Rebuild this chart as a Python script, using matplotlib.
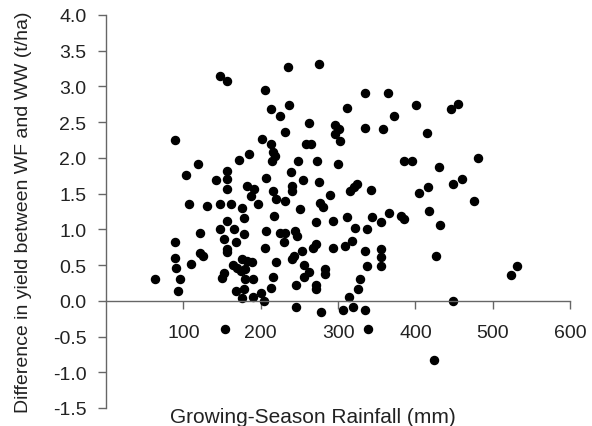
import numpy as np
from matplotlib import pyplot as plt

plt.rcParams['font.family'] = ['Liberation Sans', 'DejaVu Sans']
plt.rcParams['axes.unicode_minus'] = False

# growing-season rainfall (mm) and yield difference WF - WW (t/ha)
rainfall = [147, 156, 206, 213, 89, 202, 213, 216, 218, 215, 185, 172, 119, 103, 157, 157, 142, 207,
            235, 276, 335, 364, 225, 237, 311, 372, 263, 232, 296, 301, 296, 302, 335, 358, 259, 265,
            248, 273, 300, 239, 385, 255,
            401, 446, 455, 415, 396, 431, 481, 460,
            157, 182, 191, 188, 216, 197, 107, 131, 148, 162, 176, 179, 157, 147, 166, 179, 207, 122,
            152, 168, 89, 157, 157, 206, 122, 125, 89, 110, 90, 176, 182, 189, 164, 170, 174, 180,
            63, 96, 152, 150, 180, 190, 216, 93, 168, 179, 213, 200, 176, 190, 204, 217,
            220, 232, 241, 241, 276, 290, 277, 280, 251, 316, 320, 324, 342, 271, 294, 311, 322, 337,
            344, 356, 366, 382, 385, 225, 232, 244, 247, 230, 271, 268, 253, 294, 309, 318, 243, 241,
            220, 335, 356, 356, 356, 338, 256, 263, 256, 283, 283, 329, 326, 246, 271, 271, 314,
            405, 416, 449, 417, 432, 476, 427, 531, 523, 449,
            246, 278, 307, 319, 335, 339, 154, 424]
yield_diff = [3.14, 3.08, 2.95, 2.68, 2.25, 2.27, 2.20, 2.08, 2.03, 1.95, 2.06, 1.97, 1.91, 1.76, 1.81, 1.71, 1.69, 1.72,
              3.27, 3.32, 2.91, 2.91, 2.59, 2.74, 2.70, 2.59, 2.49, 2.36, 2.46, 2.40, 2.33, 2.23, 2.42, 2.40, 2.20, 2.20,
              1.96, 1.95, 1.92, 1.80, 1.95, 1.69,
              2.74, 2.68, 2.76, 2.35, 1.96, 1.87, 2.00, 1.71,
              1.57, 1.61, 1.56, 1.46, 1.54, 1.36, 1.36, 1.32, 1.36, 1.35, 1.30, 1.16, 1.12, 1.00, 1.00, 0.93, 0.97, 0.95,
              0.87, 0.82, 0.82, 0.73, 0.68, 0.74, 0.67, 0.62, 0.60, 0.51, 0.46, 0.59, 0.56, 0.54, 0.50, 0.46, 0.42, 0.44,
              0.31, 0.31, 0.39, 0.32, 0.31, 0.30, 0.34, 0.14, 0.14, 0.17, 0.18, 0.11, 0.04, 0.05, 0.00, 1.19,
              1.42, 1.40, 1.60, 1.53, 1.66, 1.48, 1.37, 1.31, 1.29, 1.53, 1.59, 1.63, 1.55, 1.10, 1.12, 1.17, 1.02, 1.01,
              1.17, 1.10, 1.23, 1.19, 1.15, 0.95, 0.95, 0.97, 0.91, 0.82, 0.80, 0.74, 0.69, 0.74, 0.76, 0.83, 0.62, 0.58,
              0.54, 0.69, 0.73, 0.61, 0.48, 0.49, 0.50, 0.40, 0.34, 0.44, 0.38, 0.30, 0.16, 0.22, 0.22, 0.16, 0.05,
              1.51, 1.59, 1.64, 1.26, 1.06, 1.40, 0.62, 0.48, 0.36, 0.00,
              -0.08, -0.15, -0.13, -0.08, -0.13, -0.39, -0.39, -0.83]

x_ticks = [100, 200, 300, 400, 500, 600]
y_ticks = np.arange(-1.5, 4.01, 0.5)

fig = plt.figure(figsize=(5.92, 4.27), dpi=100)
ax = fig.add_axes([0.179, 0.0422, 0.784, 0.9204])

ax.plot(rainfall, yield_diff, linestyle=' ', marker='o', ms=5.8, color='black')

ax.set_xlim((0, 600))
ax.set_ylim((-1.5, 4.0))

ax.spines['right'].set_visible(False)
ax.spines['top'].set_visible(False)
ax.spines['bottom'].set_position(('data', 0))
for s in ['left', 'bottom']:
    ax.spines[s].set_color('#666666')
    ax.spines[s].set_linewidth(1.0)

ax.xaxis.set_ticks(x_ticks)
ax.yaxis.set_ticks(y_ticks)
ax.set_yticklabels(['%.1f' % v for v in y_ticks])
ax.tick_params(axis='x', direction='out', length=6, width=1, color='#666666', pad=11,
               labelsize=14, labelcolor='#222222')
ax.tick_params(axis='y', direction='out', length=6, width=1, color='#666666', pad=8,
               labelsize=14, labelcolor='#222222')

ax.set_xlabel('Growing-Season Rainfall (mm)', fontsize=15, color='#222222')
ax.xaxis.set_label_coords(0.446, 0.003)
ax.set_ylabel('Difference in yield between WF and WW (t/ha)', fontsize=14, color='#222222')
ax.yaxis.set_label_coords(-0.16, 0.5)

fig.savefig('out.png', dpi=100)
